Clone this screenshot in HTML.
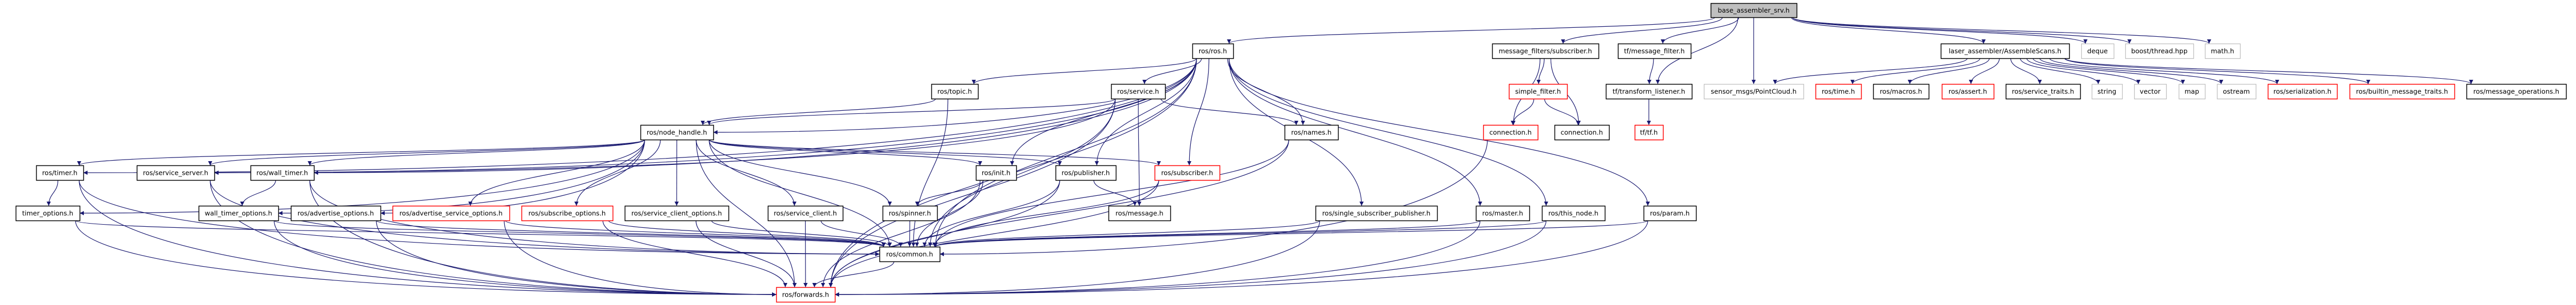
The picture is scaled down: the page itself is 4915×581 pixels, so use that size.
<!DOCTYPE html>
<html><head><meta charset="utf-8"><style>
html,body{margin:0;padding:0;background:#fff;}
svg{display:block;}
text{font-family:"DejaVu Sans","Liberation Sans",sans-serif;font-size:12.5px;fill:#000;}
</style></head><body>
<svg id="g" width="4915" height="581" viewBox="0 0 4915 581" xmlns="http://www.w3.org/2000/svg">
<defs><marker id="a" viewBox="0 0 10 10" refX="10" refY="5" markerWidth="10" markerHeight="8" markerUnits="userSpaceOnUse" orient="auto"><path d="M0,0 L10,5 L0,10 z" fill="#191970"/></marker></defs>
<g id="edges" fill="none" stroke="#191970" stroke-width="1.2"></g>
<g id="nodes"></g>
</svg>
<div style="display:none">
base_assembler_srv.h ros/ros.h message_filters/subscriber.h tf/message_filter.h laser_assembler/AssembleScans.h deque boost/thread.hpp math.h ros/topic.h ros/service.h simple_filter.h tf/transform_listener.h sensor_msgs/PointCloud.h ros/time.h ros/macros.h ros/assert.h ros/service_traits.h string vector map ostream ros/serialization.h ros/builtin_message_traits.h ros/message_operations.h ros/node_handle.h ros/names.h connection.h tf/tf.h ros/timer.h ros/service_server.h ros/wall_timer.h ros/init.h ros/publisher.h ros/subscriber.h timer_options.h wall_timer_options.h ros/advertise_options.h ros/advertise_service_options.h ros/subscribe_options.h ros/service_client_options.h ros/service_client.h ros/spinner.h ros/message.h ros/single_subscriber_publisher.h ros/master.h ros/this_node.h ros/param.h ros/common.h ros/forwards.h
</div>
<script>
var R={1:[6,33],2:[83,111],3:[160,188],4:[238,266],5:[315,343],6:[392,420],7:[470,498],8:[547,575]};
var N={
BAS:[3264,3428,1,"base_assembler_srv.h","f"],
ros:[2275,2353,2,"ros/ros.h"],
mfs:[2847,3050,2,"message_filters/subscriber.h"],
tfmf:[3087,3226,2,"tf/message_filter.h"],
AS:[3703,3948,2,"laser_assembler/AssembleScans.h"],
deque:[3971,4033,2,"deque","g"],
boost:[4055,4185,2,"boost/thread.hpp","g"],
math:[4207,4274,2,"math.h","g"],
topic:[1777,1866,3,"ros/topic.h"],
service:[2120,2223,3,"ros/service.h"],
sf:[2879,2990,3,"simple_filter.h","r"],
tl:[3064,3228,3,"tf/transform_listener.h"],
pc:[3251,3441,3,"sensor_msgs/PointCloud.h","g"],
time:[3464,3551,3,"ros/time.h","r"],
macros:[3574,3680,3,"ros/macros.h"],
assert:[3705,3804,3,"ros/assert.h","r"],
st:[3827,3969,3,"ros/service_traits.h"],
string:[3991,4049,3,"string","g"],
vector:[4072,4133,3,"vector","g"],
map:[4157,4207,3,"map","g"],
ostream:[4230,4304,3,"ostream","g"],
ser:[4327,4459,3,"ros/serialization.h","r"],
bmt:[4483,4683,3,"ros/builtin_message_traits.h","r"],
mo:[4706,4896,3,"ros/message_operations.h"],
nh:[1222,1361,4,"ros/node_handle.h"],
names:[2451,2553,4,"ros/names.h"],
conr:[2830,2934,4,"connection.h","r"],
con:[2966,3070,4,"connection.h"],
tf:[3119,3173,4,"tf/tf.h","r"],
timer:[69,159,5,"ros/timer.h"],
ss:[261,409,5,"ros/service_server.h"],
wt:[478,599,5,"ros/wall_timer.h"],
init:[1862,1939,5,"ros/init.h"],
pub:[2014,2129,5,"ros/publisher.h"],
sub:[2203,2327,5,"ros/subscriber.h","r"],
to:[30,152,6,"timer_options.h"],
wto:[379,531,6,"wall_timer_options.h"],
ao:[555,726,6,"ros/advertise_options.h"],
aso:[749,972,6,"ros/advertise_service_options.h","r"],
so:[995,1169,6,"ros/subscribe_options.h","r"],
sco:[1192,1390,6,"ros/service_client_options.h"],
sc:[1465,1608,6,"ros/service_client.h"],
spin:[1684,1788,6,"ros/spinner.h"],
msg:[2115,2233,6,"ros/message.h"],
ssp:[2510,2742,6,"ros/single_subscriber_publisher.h"],
master:[2816,2918,6,"ros/master.h"],
tn:[2942,3062,6,"ros/this_node.h"],
param:[3136,3236,6,"ros/param.h"],
common:[1678,1793,7,"ros/common.h"],
fw:[1481,1593,8,"ros/forwards.h","r"]
};
var E="BAS>ros mfs tfmf tl pc AS deque boost math;ros>nh topic service names init pub sub ssp master tn param timer ss wt common fw;nh>timer ss wt to wto ao aso so sco sc spin init pub sub common fw;topic>nh common;service>nh names msg common fw ss;timer>to common fw;wt>wto common fw;ss>common fw;to>common fw;wto>common fw;ao>common fw;aso>common fw;so>common fw;sco>common fw;sc>common fw;spin>common;init>spin common fw;pub>msg common fw;sub>common fw;names>common fw;ssp>common fw;master>common fw;tn>common fw;param>common fw;common>fw;mfs>sf conr con;sf>conr con;conr>common;tfmf>tl;tl>tf;AS>pc time macros assert st string vector map ostream ser bmt mo";
var ns="http://www.w3.org/2000/svg",eg=document.getElementById("edges"),ng=document.getElementById("nodes");
function cx(n){return (n[0]+n[1])/2}
E.split(";").forEach(function(l){var p=l.split(">"),s=N[p[0]];p[1].split(" ").forEach(function(t){var d=N[t];
 var sy=R[s[2]][1],ty0=R[d[2]][0],ty1=R[d[2]][1];
 var scx=cx(s),tcx=cx(d);
 var sx=Math.max(s[0]+8,Math.min(s[1]-8,scx+(tcx-scx)*0.15));
 var tx,ty,path;
 var dy=ty0-sy;
 if(Math.abs(tcx-sx)>4*dy && d[2]-s[2]>=2){
   ty=(ty0+ty1)/2; tx=tcx>sx?d[0]:d[1];
   var my=ty;
   path="M"+sx+","+sy+" C"+sx+","+(sy+(ty-sy)*0.7)+" "+(tx+(sx-tx)*0.5)+","+my+" "+tx+","+ty;
 } else {
   ty=ty0; tx=Math.max(d[0]+8,Math.min(d[1]-8,tcx+(sx-tcx)*0.1));
   var m=(sy+ty)/2;
   path="M"+sx+","+sy+" C"+sx+","+m+" "+tx+","+m+" "+tx+","+ty;
 }
 var e=document.createElementNS(ns,"path");e.setAttribute("d",path);e.setAttribute("marker-end","url(#a)");eg.appendChild(e);
});});
for(var k in N){var n=N[k],r=R[n[2]];
 var b=document.createElementNS(ns,"rect");b.setAttribute("x",n[0]+0.5);b.setAttribute("y",r[0]+0.5);b.setAttribute("width",n[1]-n[0]);b.setAttribute("height",r[1]-r[0]);
 var c=n[4]=="r"?"#ff0000":n[4]=="g"?"#bfbfbf":"#000";
 b.setAttribute("fill",n[4]=="f"?"#bfbfbf":"#fff");b.setAttribute("stroke",c);b.setAttribute("stroke-width",n[4]=="g"?"1.3":"1.5");ng.appendChild(b);
 var t=document.createElementNS(ns,"text");t.setAttribute("x",cx(n));t.setAttribute("y",(r[0]+r[1])/2+4.5);t.setAttribute("text-anchor","middle");t.textContent=n[3];ng.appendChild(t);}
</script>
</body></html>
